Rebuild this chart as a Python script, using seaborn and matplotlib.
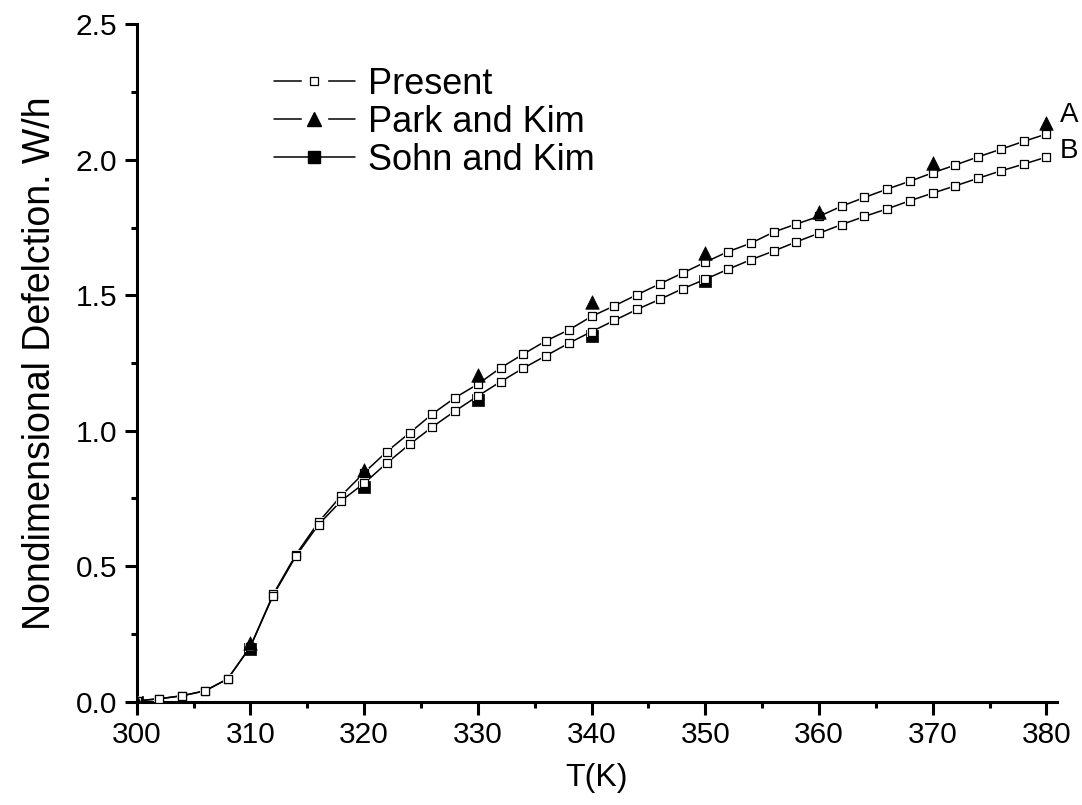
import numpy as np
import pandas as pd
import matplotlib
matplotlib.use("Agg")
import matplotlib.pyplot as plt
from matplotlib.lines import Line2D
from matplotlib.legend_handler import HandlerTuple
from matplotlib.ticker import MultipleLocator
import seaborn as sns

# ---------------- data ----------------
T_present = list(range(300, 381, 2))
present_A = [0.003, 0.011, 0.022, 0.040, 0.084, 0.203, 0.396, 0.543, 0.663, 0.761,
             0.845, 0.923, 0.992, 1.062, 1.122, 1.172, 1.232, 1.283, 1.332, 1.372,
             1.422, 1.461, 1.502, 1.542, 1.582, 1.622, 1.661, 1.692, 1.733, 1.763,
             1.791, 1.829, 1.861, 1.892, 1.921, 1.952, 1.981, 2.011, 2.039, 2.068,
             2.095]
present_B = [0.003, 0.011, 0.022, 0.040, 0.084, 0.203, 0.392, 0.537, 0.654, 0.742,
             0.806, 0.881, 0.950, 1.014, 1.073, 1.128, 1.181, 1.231, 1.277, 1.323,
             1.366, 1.407, 1.448, 1.485, 1.524, 1.559, 1.596, 1.631, 1.663, 1.697,
             1.729, 1.761, 1.791, 1.819, 1.849, 1.877, 1.904, 1.932, 1.959, 1.984,
             2.010]
T_park = [300, 310, 320, 330, 340, 350, 360, 370, 380]
park_kim = [0.0, 0.215, 0.855, 1.206, 1.477, 1.655, 1.806, 1.988, 2.135]
T_sohn = [300, 310, 320, 330, 340, 350]
sohn_kim = [0.0, 0.195, 0.794, 1.113, 1.350, 1.551]

legend_labels = ["Present", "Park and Kim", "Sohn and Kim"]
curve_labels = ["A", "B"]
x_ticks = list(range(300, 381, 10))
y_ticks = [0.0, 0.5, 1.0, 1.5, 2.0, 2.5]

# ---------------- style ----------------
sns.set_theme(style="ticks")
plt.rcParams["font.family"] = ["Liberation Sans", "DejaVu Sans"]
plt.rcParams["axes.linewidth"] = 2.2

fig = plt.figure(figsize=(10.82, 8.05), dpi=100)
ax = fig.add_axes([0.1263, 0.1283, 0.8503, 0.8415])

# reference points (below the present curves)
sns.scatterplot(x=T_sohn, y=sohn_kim, marker="s", s=78, color="black",
                edgecolor="black", linewidth=0.5, ax=ax, zorder=3)

# present curves: lines, white gap squares, open squares
for ys in (present_A, present_B):
    sns.lineplot(x=T_present, y=ys, color="black", linewidth=1.1, ax=ax,
                 sort=False, estimator=None, zorder=4)
for ys in (present_A, present_B):
    sns.scatterplot(x=T_present, y=ys, marker="s", s=52, color="white",
                    edgecolor="none", linewidth=0, ax=ax, zorder=5)
for ys in (present_A, present_B):
    sns.scatterplot(x=T_present, y=ys, marker="s", s=30, color="white",
                    edgecolor="black", linewidth=0.9, ax=ax, zorder=6)

sns.scatterplot(x=T_park, y=park_kim, marker="^", s=95, color="black",
                edgecolor="black", linewidth=0.5, ax=ax, zorder=7)

# axes
ax.set_xlim(300, 380.9)
ax.set_ylim(0, 2.5)
ax.set_xticks(x_ticks)
ax.set_xticklabels([str(t) for t in x_ticks])
ax.set_yticks(y_ticks)
ax.set_yticklabels([f"{v:.1f}" for v in y_ticks])
ax.xaxis.set_minor_locator(MultipleLocator(5))
ax.yaxis.set_minor_locator(MultipleLocator(0.25))
ax.tick_params(axis="both", which="major", direction="out", length=9, width=2.2,
               labelsize=21.5, color="black", labelcolor="black")
ax.tick_params(axis="x", which="major", pad=5)
ax.tick_params(axis="y", which="major", pad=5)
ax.tick_params(axis="both", which="minor", direction="out", length=4.5, width=2.2,
               color="black")
for side in ("top", "right"):
    ax.spines[side].set_visible(False)
for side in ("left", "bottom"):
    ax.spines[side].set_color("black")
ax.grid(False)
ax.set_facecolor("white")

ax.set_xlabel("T(K)", fontsize=23, color="black")
ax.set_ylabel("Nondimensional Defelction. W/h", fontsize=27, color="black")
ax.xaxis.set_label_coords(0.5, -0.09)
ax.yaxis.set_label_coords(-0.086, 0.5)

# curve labels A and B
ax.text(381.2, 2.166, curve_labels[0], fontsize=20, ha="left", va="center",
        color="black", clip_on=False)
ax.text(381.2, 2.031, curve_labels[1], fontsize=20, ha="left", va="center",
        color="black", clip_on=False)

# legend
line = Line2D([], [], color="black", linewidth=1.1)
cover = Line2D([], [], marker="s", markersize=18, markerfacecolor="white",
               markeredgecolor="white", linestyle="none")
h_present = (line, cover,
             Line2D([], [], marker="s", markersize=5.5, markerfacecolor="white",
                    markeredgecolor="black", markeredgewidth=0.9, linestyle="none"))
h_park = (line, cover,
          Line2D([], [], marker="^", markersize=9.5, markerfacecolor="black",
                 markeredgecolor="black", linestyle="none"))
h_sohn = (line,
          Line2D([], [], marker="s", markersize=8, markerfacecolor="black",
                 markeredgecolor="black", linestyle="none"))
leg = ax.legend([h_present, h_park, h_sohn], legend_labels,
                handler_map={tuple: HandlerTuple(ndivide=1, pad=0)},
                loc="upper left", bbox_to_anchor=(0.149, 0.937),
                borderaxespad=0, borderpad=0, frameon=False, fontsize=26,
                handlelength=2.25, handletextpad=0.35, labelspacing=0.08)
for t in leg.get_texts():
    t.set_color("black")

fig.savefig("out.png", dpi=100)
